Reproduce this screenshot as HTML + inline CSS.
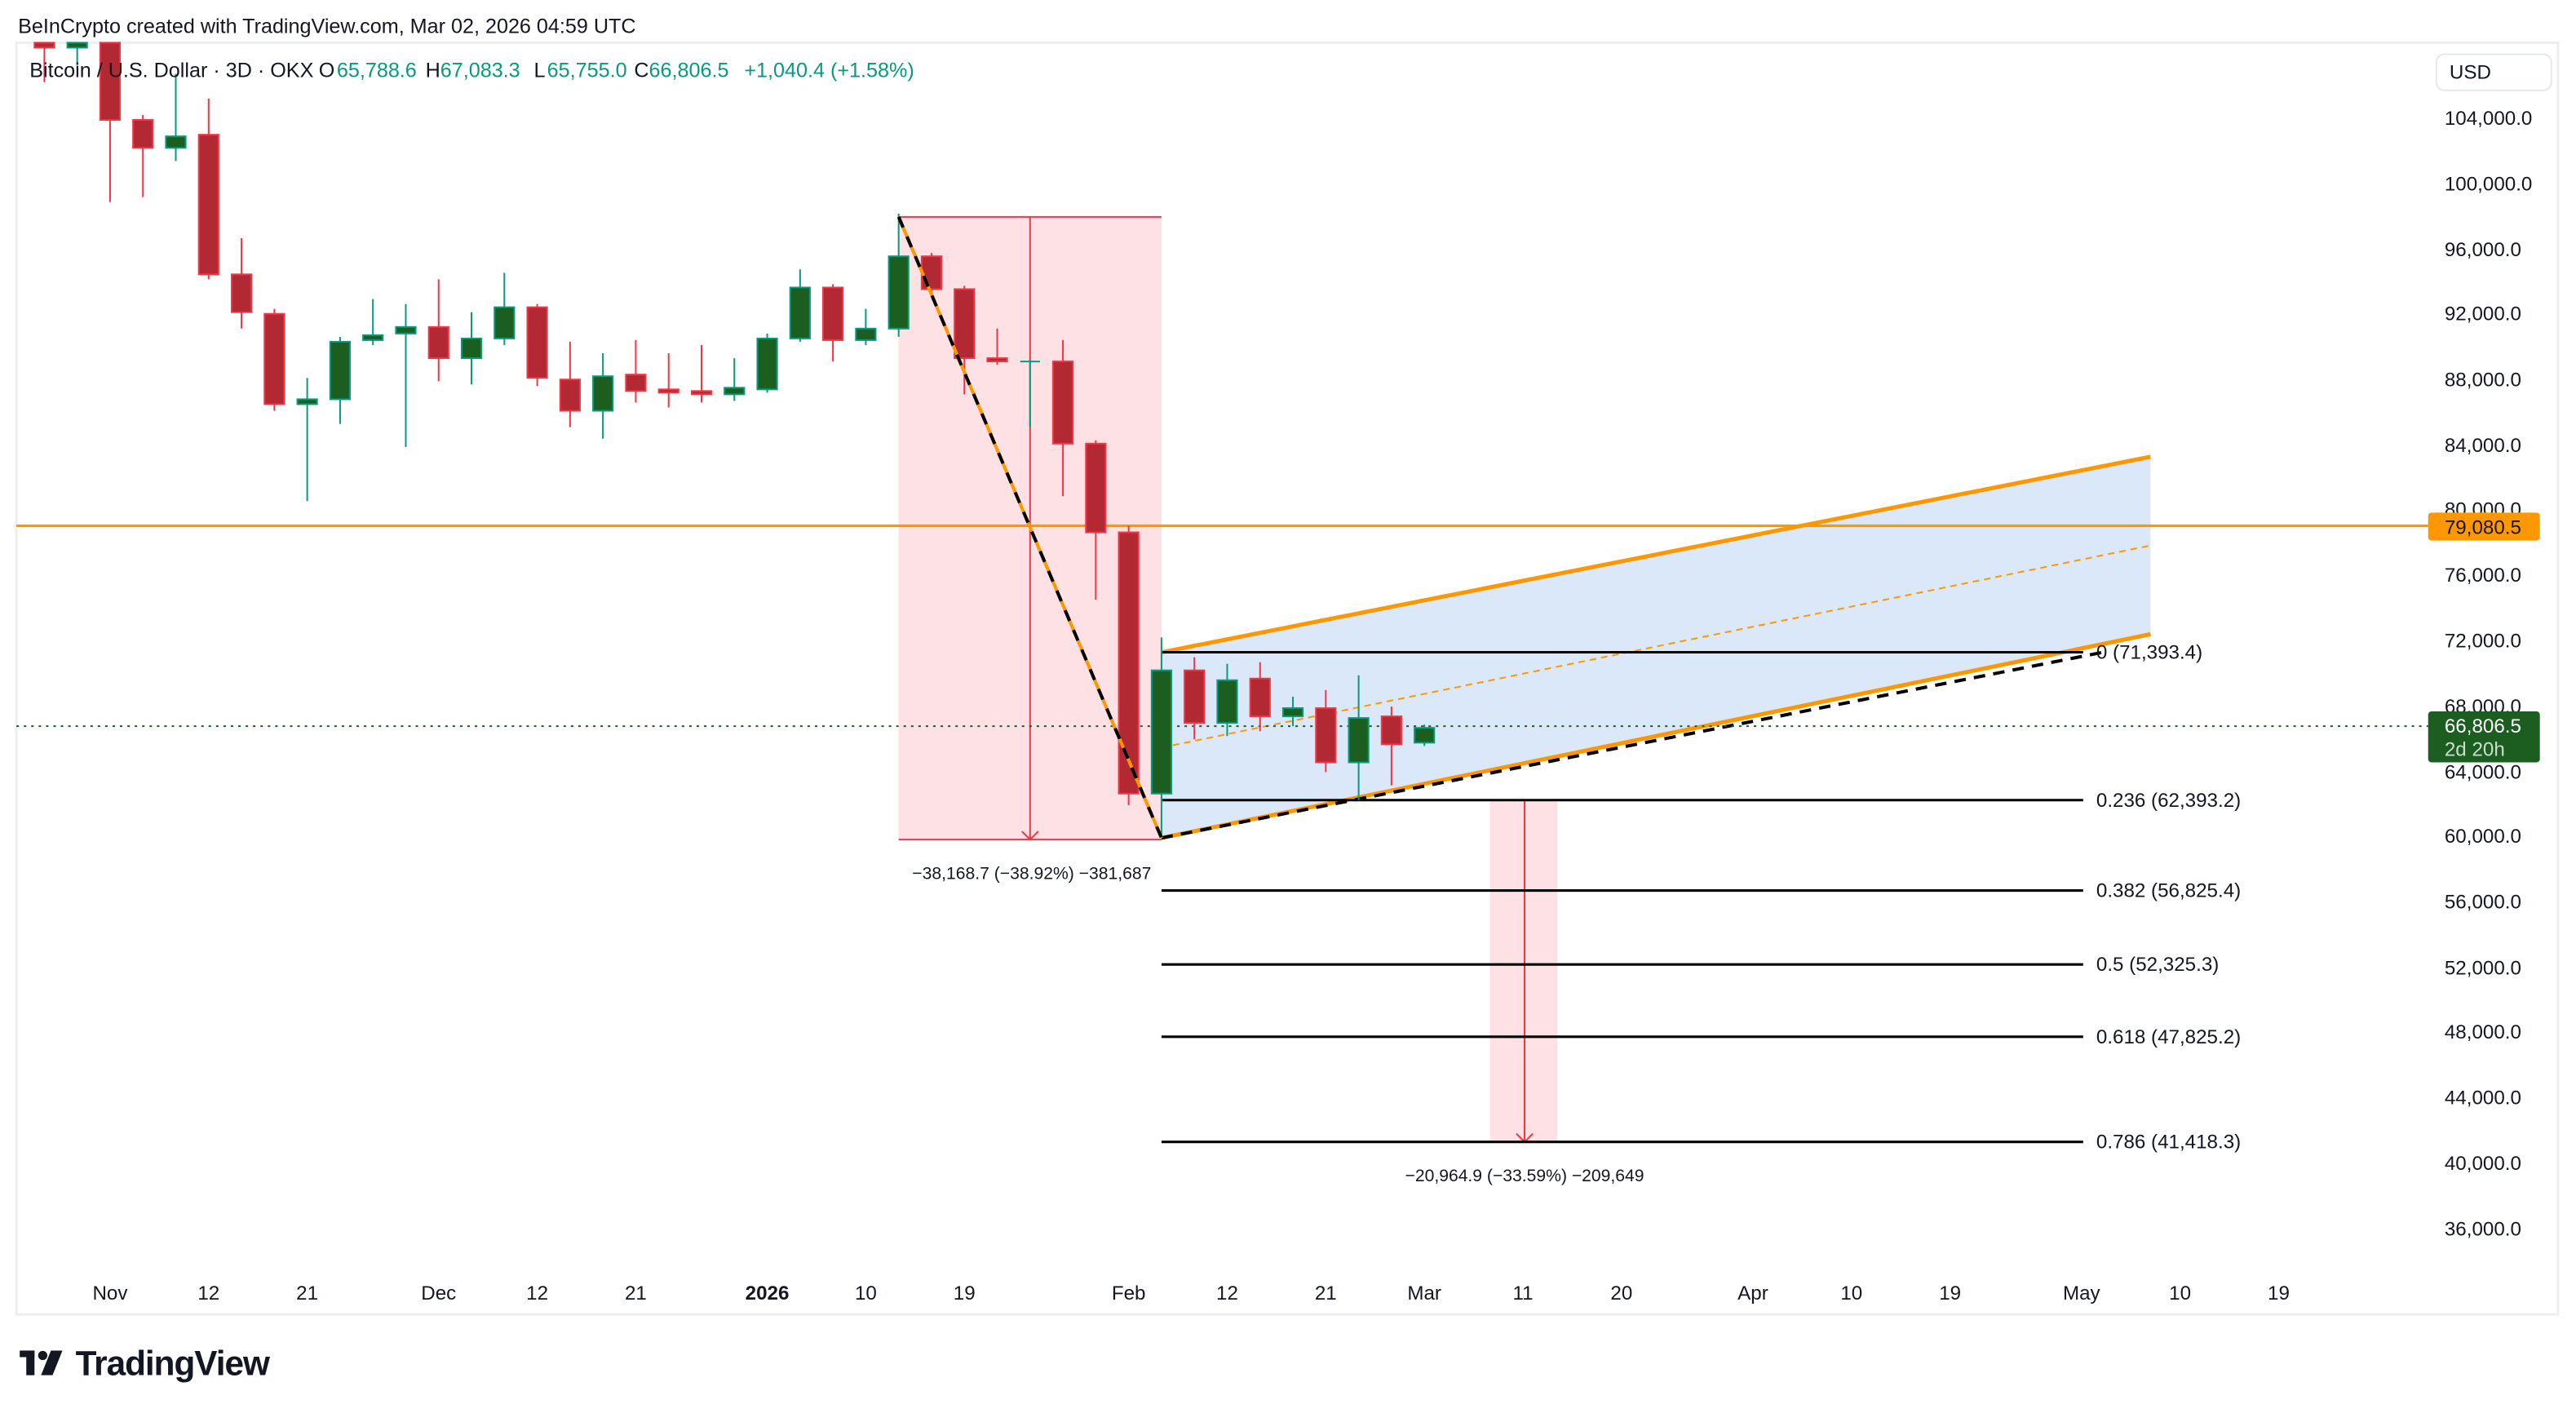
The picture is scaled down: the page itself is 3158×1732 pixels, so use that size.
<!DOCTYPE html>
<html><head><meta charset="utf-8"><style>
html,body{margin:0;padding:0;background:#fff;}
svg{display:block;font-family:"Liberation Sans",sans-serif;}
</style></head><body>
<svg width="3158" height="1732" viewBox="0 0 1568 860" preserveAspectRatio="none" xmlns="http://www.w3.org/2000/svg">
<rect width="1568" height="860" fill="#fff"/>
<text x="11" y="20" font-size="12.5" fill="#131722">BeInCrypto created with TradingView.com, Mar 02, 2026 04:59 UTC</text>
<rect x="10" y="26" width="1547" height="774" fill="#fff" stroke="#eceef2" stroke-width="1.5"/>

<!-- red measure box -->
<rect x="547" y="132" width="160" height="379" fill="#fde1e4"/>
<line x1="547" y1="132" x2="707" y2="132" stroke="#f23645" stroke-width="1"/>
<line x1="547" y1="511" x2="707" y2="511" stroke="#f23645" stroke-width="1"/>
<line x1="627" y1="132" x2="627" y2="511" stroke="#f23645" stroke-width="1"/>
<polyline points="622,506 627,511 632,506" fill="none" stroke="#f23645" stroke-width="1"/>
<text x="628" y="535" font-size="10.5" fill="#131722" text-anchor="middle">−38,168.7 (−38.92%) −381,687</text>

<rect x="907" y="487" width="41" height="208" fill="#fde1e4"/>
<line x1="928" y1="487" x2="928" y2="695" stroke="#f23645" stroke-width="1"/>
<polyline points="923,690 928,695 933,690" fill="none" stroke="#f23645" stroke-width="1"/>
<text x="928" y="719" font-size="10.5" fill="#131722" text-anchor="middle">−20,964.9 (−33.59%) −209,649</text>

<!-- channel -->
<polygon points="707,397 1309,278 1309,386 707,510" fill="#dbe8f9"/>
<line x1="707" y1="455" x2="1309" y2="332" stroke="#ff9800" stroke-width="1" stroke-dasharray="4,3"/>
<line x1="707" y1="397" x2="1309" y2="278" stroke="#ff9800" stroke-width="2.5"/>
<line x1="707" y1="510" x2="1309" y2="386" stroke="#ff9800" stroke-width="2.5"/>
<line x1="707" y1="510" x2="1280" y2="397" stroke="#000" stroke-width="2" stroke-dasharray="7,5"/>

<line x1="10" y1="320" x2="1478" y2="320" stroke="#ff9800" stroke-width="1.6"/>
<line x1="10" y1="442" x2="1478" y2="442" stroke="#1b5e20" stroke-width="1" stroke-dasharray="1.5,3"/>

<g stroke="#000" stroke-width="1.5">
<line x1="707" y1="397" x2="1268" y2="397"/>
<line x1="707" y1="487" x2="1268" y2="487"/>
<line x1="707" y1="542" x2="1268" y2="542"/>
<line x1="707" y1="587" x2="1268" y2="587"/>
<line x1="707" y1="631" x2="1268" y2="631"/>
<line x1="707" y1="695" x2="1268" y2="695"/>
</g>
<g font-size="12" fill="#131722">
<text x="1276" y="401">0 (71,393.4)</text>
<text x="1276" y="491">0.236 (62,393.2)</text>
<text x="1276" y="546">0.382 (56,825.4)</text>
<text x="1276" y="591">0.5 (52,325.3)</text>
<text x="1276" y="635">0.618 (47,825.2)</text>
<text x="1276" y="699">0.786 (41,418.3)</text>
</g>

<g stroke-width="1">
<g stroke="#f23645" fill="#b22833">
<line x1="27" y1="26" x2="27" y2="50"/><rect x="21" y="26" width="12" height="3"/>
<line x1="67" y1="26" x2="67" y2="123"/><rect x="61" y="26" width="12" height="47"/>
<line x1="87" y1="70" x2="87" y2="120"/><rect x="81" y="73" width="12" height="17"/>
<line x1="127" y1="60" x2="127" y2="170"/><rect x="121" y="82" width="12" height="85"/>
<line x1="147" y1="145" x2="147" y2="200"/><rect x="141" y="167" width="12" height="23"/>
<line x1="167" y1="188" x2="167" y2="250"/><rect x="161" y="191" width="12" height="55"/>
<line x1="267" y1="170" x2="267" y2="232"/><rect x="261" y="199" width="12" height="19"/>
<line x1="327" y1="185" x2="327" y2="235"/><rect x="321" y="187" width="12" height="43"/>
<line x1="347" y1="208" x2="347" y2="260"/><rect x="341" y="231" width="12" height="19"/>
<line x1="387" y1="207" x2="387" y2="245"/><rect x="381" y="228" width="12" height="10"/>
<line x1="407" y1="215" x2="407" y2="248"/><rect x="401" y="237" width="12" height="2"/>
<line x1="427" y1="210" x2="427" y2="245"/><rect x="421" y="238" width="12" height="2"/>
<line x1="507" y1="173" x2="507" y2="220"/><rect x="501" y="175" width="12" height="32"/>
<line x1="567" y1="154" x2="567" y2="178"/><rect x="561" y="156" width="12" height="20"/>
<line x1="587" y1="174" x2="587" y2="240"/><rect x="581" y="176" width="12" height="42"/>
<line x1="607" y1="200" x2="607" y2="222"/><rect x="601" y="218" width="12" height="2"/>
<line x1="647" y1="207" x2="647" y2="302"/><rect x="641" y="220" width="12" height="50"/>
<line x1="667" y1="268" x2="667" y2="365"/><rect x="661" y="270" width="12" height="54"/>
<line x1="687" y1="320" x2="687" y2="490"/><rect x="681" y="324" width="12" height="159"/>
<line x1="727" y1="400" x2="727" y2="450"/><rect x="721" y="408" width="12" height="32"/>
<line x1="767" y1="403" x2="767" y2="445"/><rect x="761" y="413" width="12" height="23"/>
<line x1="807" y1="420" x2="807" y2="470"/><rect x="801" y="431" width="12" height="33"/>
<line x1="847" y1="430" x2="847" y2="478"/><rect x="841" y="436" width="12" height="17"/>
</g>
<g stroke="#089981" fill="#1b5e20">
<line x1="47" y1="26" x2="47" y2="40"/><rect x="41" y="26" width="12" height="3"/>
<line x1="107" y1="45" x2="107" y2="98"/><rect x="101" y="83" width="12" height="7"/>
<line x1="187" y1="230" x2="187" y2="305"/><rect x="181" y="243" width="12" height="3"/>
<line x1="207" y1="205" x2="207" y2="258"/><rect x="201" y="208" width="12" height="35"/>
<line x1="227" y1="182" x2="227" y2="210"/><rect x="221" y="204" width="12" height="3"/>
<line x1="247" y1="185" x2="247" y2="272"/><rect x="241" y="199" width="12" height="4"/>
<line x1="287" y1="190" x2="287" y2="234"/><rect x="281" y="206" width="12" height="12"/>
<line x1="307" y1="166" x2="307" y2="210"/><rect x="301" y="187" width="12" height="19"/>
<line x1="367" y1="215" x2="367" y2="267"/><rect x="361" y="229" width="12" height="21"/>
<line x1="447" y1="218" x2="447" y2="244"/><rect x="441" y="236" width="12" height="4"/>
<line x1="467" y1="203" x2="467" y2="239"/><rect x="461" y="206" width="12" height="31"/>
<line x1="487" y1="164" x2="487" y2="208"/><rect x="481" y="175" width="12" height="31"/>
<line x1="527" y1="188" x2="527" y2="210"/><rect x="521" y="200" width="12" height="7"/>
<line x1="547" y1="130" x2="547" y2="205"/><rect x="541" y="156" width="12" height="44"/>
<line x1="627" y1="219" x2="627" y2="260"/><line x1="621" y1="220" x2="633" y2="220"/>
<line x1="707" y1="388" x2="707" y2="510"/><rect x="701" y="408" width="12" height="75"/>
<line x1="747" y1="404" x2="747" y2="448"/><rect x="741" y="414" width="12" height="26"/>
<line x1="787" y1="424" x2="787" y2="442"/><rect x="781" y="431" width="12" height="5"/>
<line x1="827" y1="411" x2="827" y2="487"/><rect x="821" y="437" width="12" height="27"/>
<line x1="867" y1="441" x2="867" y2="454"/><rect x="861" y="443" width="12" height="9"/>
</g>
</g>

<polyline points="547,132 707,510" fill="none" stroke="#ff9800" stroke-width="2"/>
<polyline points="547,132 707,510" fill="none" stroke="#000" stroke-width="2" stroke-dasharray="7,6"/>

<!-- legend -->
<g font-size="12.5" fill="#131722">
<text x="18" y="47">Bitcoin / U.S. Dollar · 3D · OKX</text>
<text x="194" y="47">O</text><text x="205" y="47" fill="#089981">65,788.6</text>
<text x="259" y="47">H</text><text x="268" y="47" fill="#089981">67,083.3</text>
<text x="325" y="47">L</text><text x="333" y="47" fill="#089981">65,755.0</text>
<text x="386" y="47">C</text><text x="395" y="47" fill="#089981">66,806.5</text>
<text x="453" y="47" fill="#089981">+1,040.4 (+1.58%)</text>
</g>

<rect x="1483" y="33" width="70" height="22" rx="5" fill="#fff" stroke="#e6e8ec"/>
<text x="1491" y="48" font-size="12" fill="#131722">USD</text>
<g font-size="12" fill="#131722">
<text x="1488" y="76">104,000.0</text>
<text x="1488" y="116">100,000.0</text>
<text x="1488" y="156">96,000.0</text>
<text x="1488" y="195">92,000.0</text>
<text x="1488" y="235">88,000.0</text>
<text x="1488" y="275">84,000.0</text>
<text x="1488" y="314">80,000.0</text>
<text x="1488" y="354">76,000.0</text>
<text x="1488" y="394">72,000.0</text>
<text x="1488" y="434">68,000.0</text>
<text x="1488" y="474">64,000.0</text>
<text x="1488" y="513">60,000.0</text>
<text x="1488" y="553">56,000.0</text>
<text x="1488" y="593">52,000.0</text>
<text x="1488" y="632">48,000.0</text>
<text x="1488" y="672">44,000.0</text>
<text x="1488" y="712">40,000.0</text>
<text x="1488" y="752">36,000.0</text>
</g>
<rect x="1478" y="312" width="68" height="17" rx="2" fill="#ff9800"/>
<text x="1488" y="325" font-size="12" fill="#131722">79,080.5</text>
<rect x="1478" y="433" width="68" height="31" rx="2" fill="#1b5e20"/>
<text x="1488" y="446" font-size="12" fill="#fff">66,806.5</text>
<text x="1488" y="460" font-size="12" fill="#d0dcd0">2d 20h</text>

<g font-size="12" fill="#131722" text-anchor="middle">
<text x="67" y="791">Nov</text><text x="127" y="791">12</text><text x="187" y="791">21</text>
<text x="267" y="791">Dec</text><text x="327" y="791">12</text><text x="387" y="791">21</text>
<text x="467" y="791" font-weight="bold">2026</text><text x="527" y="791">10</text><text x="587" y="791">19</text>
<text x="687" y="791">Feb</text><text x="747" y="791">12</text><text x="807" y="791">21</text>
<text x="867" y="791">Mar</text><text x="927" y="791">11</text><text x="987" y="791">20</text>
<text x="1067" y="791">Apr</text><text x="1127" y="791">10</text><text x="1187" y="791">19</text>
<text x="1267" y="791">May</text><text x="1327" y="791">10</text><text x="1387" y="791">19</text>
</g>

<g fill="#131722">
<rect x="12" y="822" width="9" height="4"/><rect x="16" y="822" width="5" height="15"/>
<circle cx="26" cy="825" r="2.8"/><polygon points="31,822 38,822 32,837 25,837"/>
</g>
<text x="46" y="837" font-size="21" font-weight="bold" fill="#131722" letter-spacing="-0.5">TradingView</text>
</svg>
</body></html>
